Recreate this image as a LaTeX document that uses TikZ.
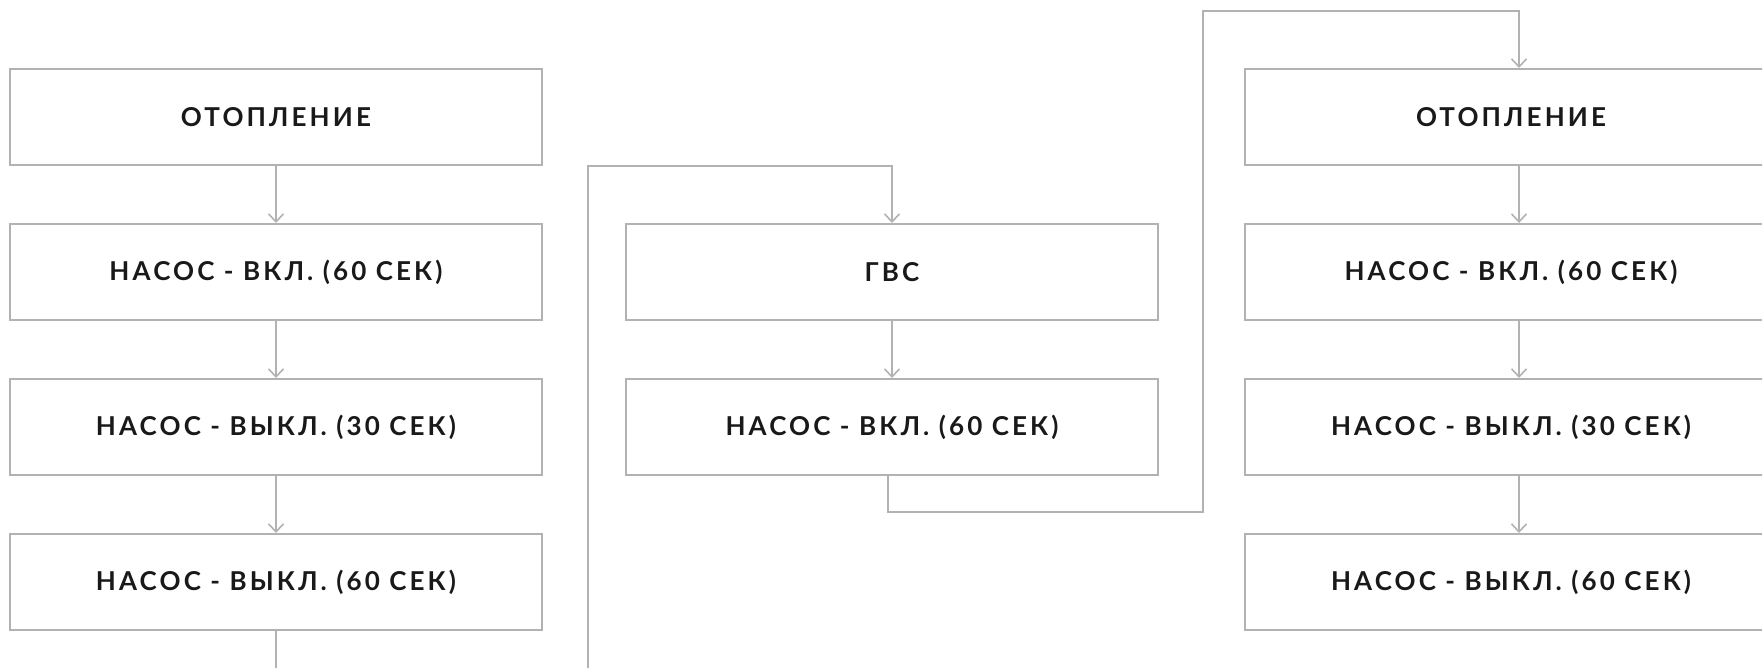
\documentclass[tikz,border=0pt]{standalone}
\usepackage{fontspec}
\newfontfamily\lblfont[LetterSpace=12]{Lato Bold}
\usetikzlibrary{arrows.meta}
\definecolor{linegray}{RGB}{178,178,178}
\tikzset{
  stepbox/.style={draw=linegray, line width=1pt, minimum width=266pt, minimum height=48pt,
    inner sep=0pt, font=\lblfont\fontsize{13}{15}\selectfont, text=black!90},
  conn/.style={draw=linegray, line width=1pt},
  arr/.style={conn, -{Straight Barb[length=4pt,width=7.5pt,line width=0.8pt]}}
}
\begin{document}
\begin{tikzpicture}[x=0.5pt,y=-0.5pt]
\useasboundingbox (0,0) rectangle (1762,668);
\clip (0,0) rectangle (1762,668);
% left column
\node[stepbox] (L1) at (276,117) {ОТОПЛЕНИЕ};
\node[stepbox] (L2) at (276,272) {НАСОС - ВКЛ. (60 СЕК)};
\node[stepbox] (L3) at (276,427) {НАСОС - ВЫКЛ. (30 СЕК)};
\node[stepbox] (L4) at (276,582) {НАСОС - ВЫКЛ. (60 СЕК)};
% middle column
\node[stepbox] (M1) at (892,272) {ГВС};
\node[stepbox] (M2) at (892,427) {НАСОС - ВКЛ. (60 СЕК)};
% right column
\node[stepbox] (R1) at (1511,117) {ОТОПЛЕНИЕ};
\node[stepbox] (R2) at (1511,272) {НАСОС - ВКЛ. (60 СЕК)};
\node[stepbox] (R3) at (1511,427) {НАСОС - ВЫКЛ. (30 СЕК)};
\node[stepbox] (R4) at (1511,582) {НАСОС - ВЫКЛ. (60 СЕК)};
% helper coordinates
\coordinate (botL) at (276,672);
\coordinate (botM) at (587.5,672);
\coordinate (topM) at (587.5,166);
\coordinate (kA) at (888,512);
\coordinate (kB) at (1203,512);
\coordinate (kC) at (1203,11);
\coordinate (ax) at (1519,0);
% connectors
\draw[arr] (L1) -- (L2);
\draw[arr] (L2) -- (L3);
\draw[arr] (L3) -- (L4);
\draw[conn] (L4.south) -- (botL);
\draw[arr] (botM) -- (topM) -| (M1.north);
\draw[arr] (M1) -- (M2);
\draw[arr] (M2.south -| kA) -- (kA) -- (kB) -- (kC) -| (ax |- R1.north);
\draw[arr] (ax |- R1.south) -- (ax |- R2.north);
\draw[arr] (ax |- R2.south) -- (ax |- R3.north);
\draw[arr] (ax |- R3.south) -- (ax |- R4.north);
\end{tikzpicture}
\end{document}
